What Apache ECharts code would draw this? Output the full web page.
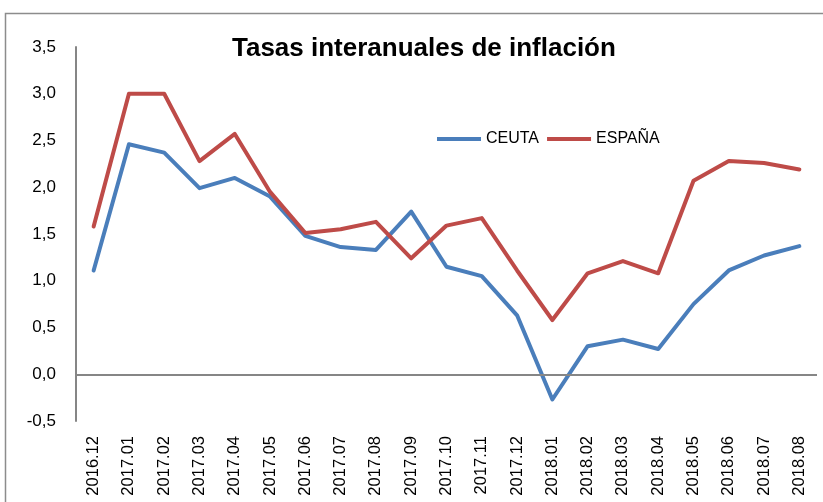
<!DOCTYPE html>
<html>
<head>
<meta charset="utf-8">
<script src="https://cdn.jsdelivr.net/npm/echarts@6/dist/echarts.min.js"></script>
<style>
  html, body { margin: 0; padding: 0; background: #fff; }
  #chart { width: 823px; height: 502px; }
</style>
</head>
<body>
<div id="chart"></div>
<script>
// datos
const meses = ['2016.12', '2017.01', '2017.02', '2017.03', '2017.04', '2017.05', '2017.06',
  '2017.07', '2017.08', '2017.09', '2017.10', '2017.11', '2017.12', '2018.01', '2018.02',
  '2018.03', '2018.04', '2018.05', '2018.06', '2018.07', '2018.08'];
const ceuta = [1.11, 2.46, 2.37, 1.99, 2.10, 1.90, 1.48, 1.36, 1.33, 1.74, 1.15, 1.05, 0.63,
  -0.27, 0.30, 0.37, 0.27, 0.75, 1.11, 1.27, 1.37];
const espana = [1.58, 3.0, 3.0, 2.28, 2.57, 1.95, 1.51, 1.55, 1.63, 1.24, 1.59, 1.67, 1.11,
  0.58, 1.08, 1.21, 1.08, 2.07, 2.28, 2.26, 2.19];

const myChart = echarts.init(document.getElementById('chart'));

const lineaSerie = (nombre, datos, color) => ({
  name: nombre,
  type: 'line',
  data: datos,
  showSymbol: false,
  symbol: 'none',
  lineStyle: { color: color, width: 4, join: 'round', cap: 'round' },
  itemStyle: { color: color },
  animation: false
});

const option = {
  backgroundColor: '#fff',
  title: {
    text: 'Tasas interanuales de inflación',
    left: 227,
    top: 31,
    textStyle: { fontFamily: 'Liberation Sans', fontWeight: 'bold', fontSize: 26, color: '#000' }
  },
  legend: {
    left: 432,
    top: 126,
    icon: 'rect',
    itemWidth: 44,
    itemHeight: 4,
    itemGap: 8,
    textStyle: { fontFamily: 'Liberation Sans', fontSize: 16, color: '#000' },
    data: ['CEUTA', 'ESPAÑA']
  },
  graphic: [{
    type: 'rect',
    shape: { x: 5.5, y: 13.5, width: 900, height: 600 },
    style: { fill: 'none', stroke: '#8c8c8c', lineWidth: 1.5 },
    silent: true
  }],
  grid: { left: 76, top: 47, right: 6, bottom: 81 },
  xAxis: {
    type: 'category',
    data: meses,
    boundaryGap: true,
    axisLine: { show: false, onZero: false },
    axisTick: { show: false },
    axisLabel: { rotate: 90, margin: 15, fontFamily: 'Liberation Sans', fontSize: 16.5, color: '#000' }
  },
  yAxis: {
    type: 'value',
    min: -0.5,
    max: 3.5,
    interval: 0.5,
    axisLine: { show: true, lineStyle: { color: '#868686', width: 2 } },
    axisTick: { show: false },
    splitLine: { show: false },
    axisLabel: {
      margin: 20,
      fontFamily: 'Liberation Sans',
      fontSize: 17,
      color: '#000',
      formatter: v => v.toFixed(1).replace('.', ',')
    }
  },
  series: [
    Object.assign(lineaSerie('CEUTA', ceuta, '#4a7ebb'), {
      markLine: {
        silent: true,
        symbol: 'none',
        label: { show: false },
        lineStyle: { color: '#868686', type: 'solid', width: 2 },
        data: [{ yAxis: 0 }],
        animation: false
      }
    }),
    lineaSerie('ESPAÑA', espana, '#be4b48')
  ]
};

myChart.setOption(option);
window.onresize = function () {
  myChart.resize();
};
</script>
</body>
</html>
